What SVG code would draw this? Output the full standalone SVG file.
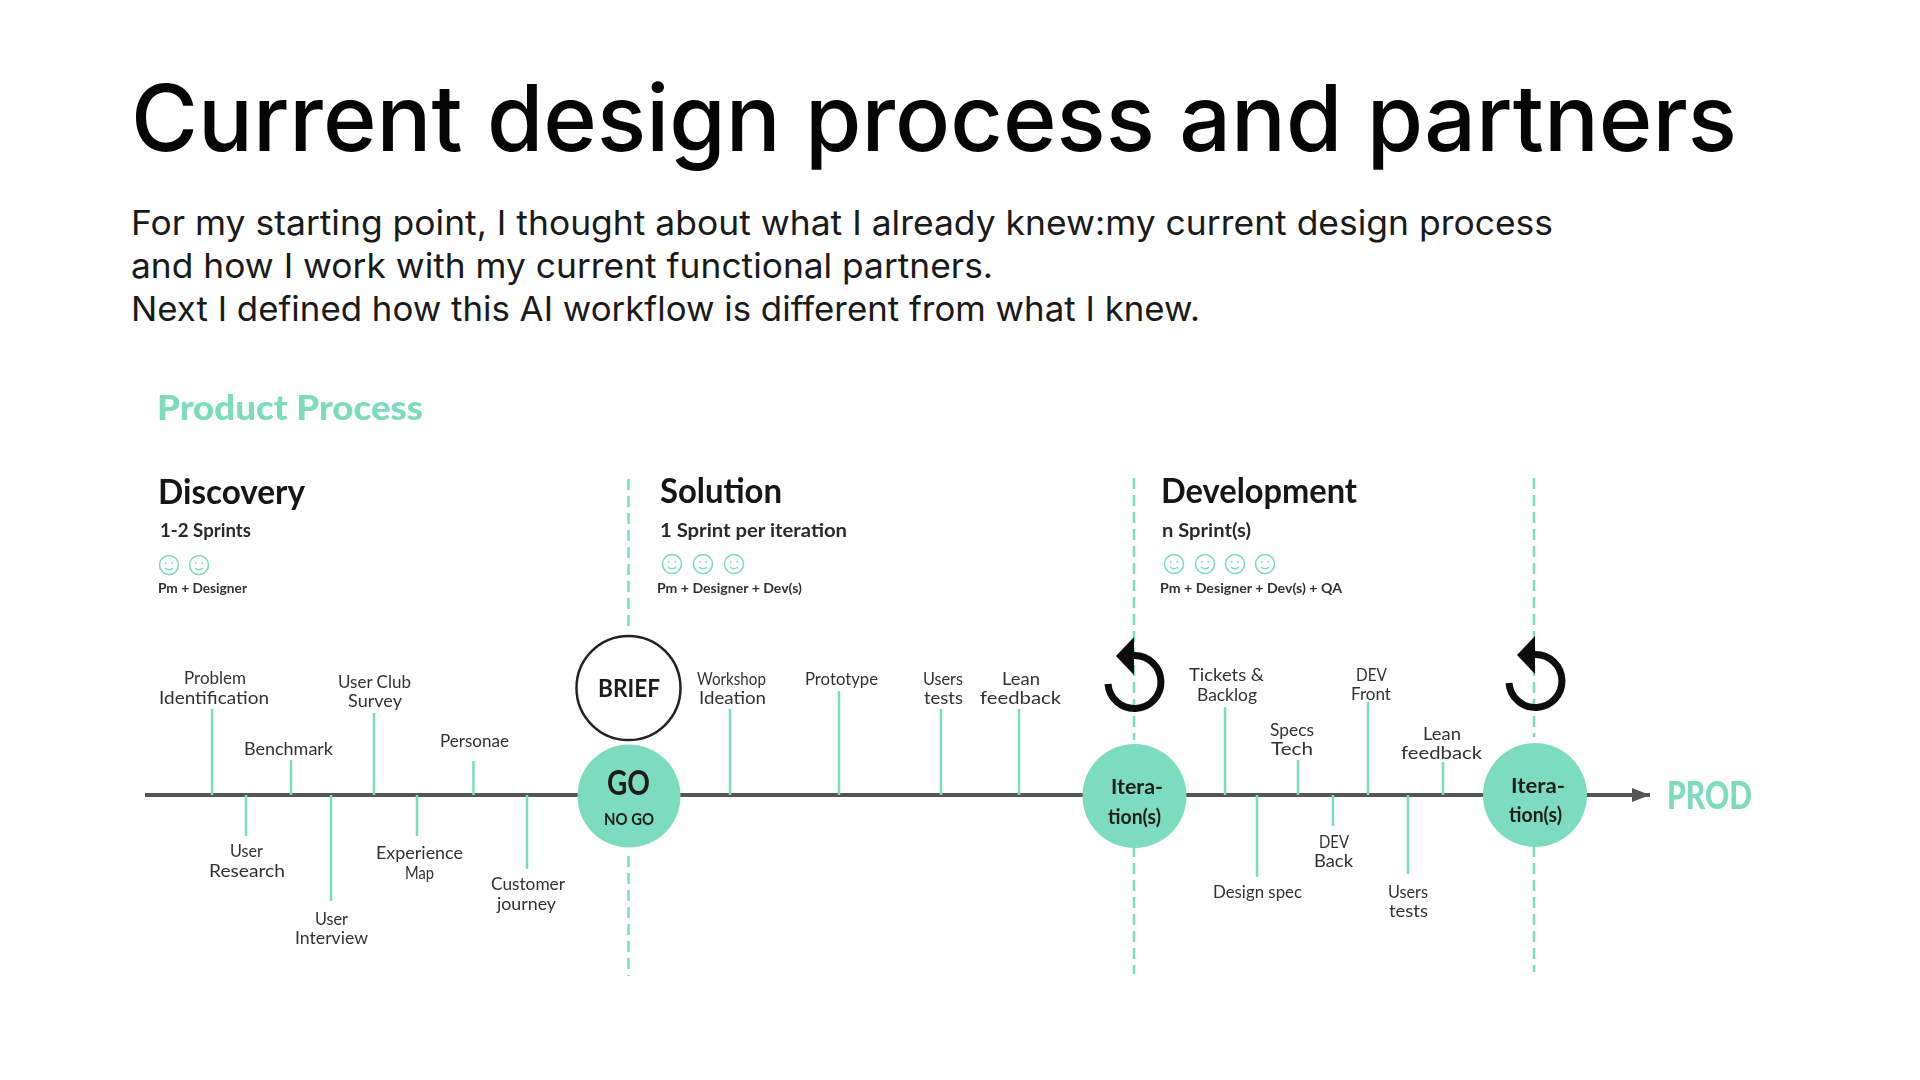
<svg xmlns="http://www.w3.org/2000/svg" width="1920" height="1080" viewBox="0 0 1920 1080">
<style>
text{font-family:"Lato","Open Sans","Liberation Sans",sans-serif}
.title{font-family:"Inter","Liberation Sans",sans-serif;font-size:92px;font-weight:530;fill:#050505}
.body{font-family:"Inter","Liberation Sans",sans-serif;font-size:34px;fill:#1a1a1a}
.lab{font-size:17.5px;fill:#333}
.head{font-size:35px;font-weight:700;fill:#141414}
.sprint{font-size:19px;font-weight:700;fill:#2a2a2a}
.team{font-size:14px;font-weight:700;fill:#333}
.teal{font-weight:900;fill:#7cdcbd}
.node{font-weight:700;fill:#1c1c1c}
.tick{stroke:#7cdcbd;stroke-width:2.5;fill:none}
.dash{stroke:#7cdcbd;stroke-width:2.5;stroke-dasharray:11 6;fill:none}
.axis{stroke:#555;stroke-width:4;fill:none}
.disc{fill:#7cdcbd}
.loop{stroke:#0a0a0a;stroke-width:7;fill:none}
.face{stroke:#7cdcbd;stroke-width:1.6;fill:none}
</style>
<defs>
<marker id="ah" markerUnits="userSpaceOnUse" markerWidth="19" markerHeight="14" refX="18" refY="7" orient="auto"><path d="M0 0L18 7L0 14Z" fill="#555"/></marker>
<symbol id="smile" viewBox="-11 -11 22 22" width="22" height="22" overflow="visible">
<circle class="face" r="9.5"/><circle cx="-3.2" cy="-2" r="0.9" fill="#7cdcbd"/><circle cx="3.2" cy="-2" r="0.9" fill="#7cdcbd"/><path class="face" d="M-4 3Q0 6.500 4 3"/>
</symbol>
<g id="loopshape"><path class="loop" d="M-26 2A26.500 26.500 0 1 0 0 -26.500"/><path d="M0 -45L-18 -26L0 -7Z" fill="#0a0a0a"/></g>
<filter id="soft" x="-2%" y="-2%" width="104%" height="104%"><feGaussianBlur stdDeviation="0.5"/></filter>
</defs>
<rect width="1920" height="1080" fill="#fff"/>
<g id="heading">
<text class="title" x="131" y="151" textLength="1606" lengthAdjust="spacingAndGlyphs">Current design process and partners</text>
<text class="body" x="131" y="235" textLength="1422" lengthAdjust="spacingAndGlyphs">For my starting point, I thought about what I already knew:my current design process</text>
<text class="body" x="131" y="278" textLength="862" lengthAdjust="spacingAndGlyphs">and how I work with my current functional partners.</text>
<text class="body" x="131" y="321" textLength="1069" lengthAdjust="spacingAndGlyphs">Next I defined how this AI workflow is different from what I knew.</text>
</g>
<g id="diagram" filter="url(#soft)">
<g id="connectors">
<path class="axis" d="M145 795H1650" marker-end="url(#ah)"/>
<path class="dash" d="M628.500 479V631M628.500 856V976M1134 478V740M1134 846V974M1534 478V737M1534 846V972"/>
<path class="tick" d="M212 709V795M291 760V795M374 713V795M473.500 761V795M246 795V836M331 795V901M417 795V836M527 795V869"/>
<path class="tick" d="M730 709V795M839 691V795M941 709V795M1019 709V795"/>
<path class="tick" d="M1225 707V795M1298 760V795M1368 702V795M1443 762V795M1257 795V877M1333 795V826M1408 795V874"/>
</g>
<g id="product-process"><text class="teal" font-size="34" x="157" y="420" textLength="266" lengthAdjust="spacingAndGlyphs">Product Process</text></g>
<g id="discovery">
<text class="head" x="158" y="504" textLength="147" lengthAdjust="spacingAndGlyphs">Discovery</text>
<text class="sprint" x="160" y="537" textLength="91" lengthAdjust="spacingAndGlyphs">1-2 Sprints</text>
<use href="#smile" x="158" y="554"/><use href="#smile" x="188" y="554"/>
<text class="team" x="158" y="593" textLength="89" lengthAdjust="spacingAndGlyphs">Pm + Designer</text>
</g>
<g id="solution">
<text class="head" x="660" y="503" textLength="122" lengthAdjust="spacingAndGlyphs">Solution</text>
<text class="sprint" x="660" y="537" textLength="187" lengthAdjust="spacingAndGlyphs">1 Sprint per iteration</text>
<use href="#smile" x="661" y="553"/><use href="#smile" x="692" y="553"/><use href="#smile" x="723" y="553"/>
<text class="team" x="657" y="593" textLength="145" lengthAdjust="spacingAndGlyphs">Pm + Designer + Dev(s)</text>
</g>
<g id="development">
<text class="head" x="1161" y="503" textLength="196" lengthAdjust="spacingAndGlyphs">Development</text>
<text class="sprint" x="1162" y="537" textLength="89" lengthAdjust="spacingAndGlyphs">n Sprint(s)</text>
<use href="#smile" x="1163" y="553"/><use href="#smile" x="1194" y="553"/><use href="#smile" x="1224" y="553"/><use href="#smile" x="1254" y="553"/>
<text class="team" x="1160" y="593" textLength="182" lengthAdjust="spacingAndGlyphs">Pm + Designer + Dev(s) + QA</text>
</g>
<g id="brief"><circle cx="628.500" cy="688" r="52" fill="#fff" stroke="#222" stroke-width="2.500"/><text class="node" font-size="25" x="598" y="697" textLength="62" lengthAdjust="spacingAndGlyphs">BRIEF</text></g>
<g id="go"><circle class="disc" cx="629" cy="796" r="51.500"/><text class="node" font-size="34" x="607" y="795" textLength="43" lengthAdjust="spacingAndGlyphs">GO</text><text class="node" font-size="17" x="604" y="825" textLength="50" lengthAdjust="spacingAndGlyphs">NO GO</text></g>
<g id="iteration-1"><circle class="disc" cx="1134.500" cy="796" r="52"/><text class="node" font-size="21" x="1111" y="794" textLength="52" lengthAdjust="spacingAndGlyphs">Itera-</text><text class="node" font-size="21" x="1108" y="824" textLength="53" lengthAdjust="spacingAndGlyphs">tion(s)</text></g>
<g id="iteration-2"><circle class="disc" cx="1535" cy="795" r="52"/><text class="node" font-size="21" x="1511" y="793" textLength="54" lengthAdjust="spacingAndGlyphs">Itera-</text><text class="node" font-size="21" x="1509" y="822" textLength="53" lengthAdjust="spacingAndGlyphs">tion(s)</text></g>
<g id="loop-1"><use href="#loopshape" x="1134" y="682"/></g>
<g id="loop-2"><use href="#loopshape" x="1535" y="681"/></g>
<g id="prod"><text class="teal" font-size="38" x="1667" y="809" textLength="85" lengthAdjust="spacingAndGlyphs">PROD</text></g>
<g id="labels-discovery">
<g id="problem-identification"><text class="lab" x="184" y="684" textLength="62" lengthAdjust="spacingAndGlyphs">Problem</text><text class="lab" x="159" y="704" textLength="110" lengthAdjust="spacingAndGlyphs">Identification</text></g>
<g id="benchmark"><text class="lab" x="244" y="755" textLength="89" lengthAdjust="spacingAndGlyphs">Benchmark</text></g>
<g id="user-club"><text class="lab" x="338" y="688" textLength="73" lengthAdjust="spacingAndGlyphs">User Club</text><text class="lab" x="348" y="707" textLength="54" lengthAdjust="spacingAndGlyphs">Survey</text></g>
<g id="personae"><text class="lab" x="440" y="747" textLength="69" lengthAdjust="spacingAndGlyphs">Personae</text></g>
<g id="user-research"><text class="lab" x="230" y="857" textLength="33" lengthAdjust="spacingAndGlyphs">User</text><text class="lab" x="209" y="877" textLength="76" lengthAdjust="spacingAndGlyphs">Research</text></g>
<g id="user-interview"><text class="lab" x="315" y="925" textLength="33" lengthAdjust="spacingAndGlyphs">User</text><text class="lab" x="295" y="944" textLength="73" lengthAdjust="spacingAndGlyphs">Interview</text></g>
<g id="experience-map"><text class="lab" x="376" y="859" textLength="87" lengthAdjust="spacingAndGlyphs">Experience</text><text class="lab" x="405" y="879" textLength="29" lengthAdjust="spacingAndGlyphs">Map</text></g>
<g id="customer-journey"><text class="lab" x="491" y="890" textLength="74" lengthAdjust="spacingAndGlyphs">Customer</text><text class="lab" x="497" y="910" textLength="59" lengthAdjust="spacingAndGlyphs">journey</text></g>
</g>
<g id="labels-solution">
<g id="workshop-ideation"><text class="lab" x="697" y="685" textLength="69" lengthAdjust="spacingAndGlyphs">Workshop</text><text class="lab" x="699" y="704" textLength="67" lengthAdjust="spacingAndGlyphs">Ideation</text></g>
<g id="prototype"><text class="lab" x="805" y="685" textLength="73" lengthAdjust="spacingAndGlyphs">Prototype</text></g>
<g id="users-tests-1"><text class="lab" x="923" y="685" textLength="40" lengthAdjust="spacingAndGlyphs">Users</text><text class="lab" x="924" y="704" textLength="39" lengthAdjust="spacingAndGlyphs">tests</text></g>
<g id="lean-feedback-1"><text class="lab" x="1002" y="685" textLength="38" lengthAdjust="spacingAndGlyphs">Lean</text><text class="lab" x="980" y="704" textLength="81" lengthAdjust="spacingAndGlyphs">feedback</text></g>
</g>
<g id="labels-development">
<g id="tickets-backlog"><text class="lab" x="1189" y="681" textLength="75" lengthAdjust="spacingAndGlyphs">Tickets &amp;</text><text class="lab" x="1197" y="701" textLength="60" lengthAdjust="spacingAndGlyphs">Backlog</text></g>
<g id="specs-tech"><text class="lab" x="1270" y="736" textLength="44" lengthAdjust="spacingAndGlyphs">Specs</text><text class="lab" x="1271" y="755" textLength="42" lengthAdjust="spacingAndGlyphs">Tech</text></g>
<g id="dev-front"><text class="lab" x="1356" y="681" textLength="31" lengthAdjust="spacingAndGlyphs">DEV</text><text class="lab" x="1351" y="700" textLength="40" lengthAdjust="spacingAndGlyphs">Front</text></g>
<g id="lean-feedback-2"><text class="lab" x="1423" y="740" textLength="38" lengthAdjust="spacingAndGlyphs">Lean</text><text class="lab" x="1401" y="759" textLength="81" lengthAdjust="spacingAndGlyphs">feedback</text></g>
<g id="dev-back"><text class="lab" x="1319" y="848" textLength="30" lengthAdjust="spacingAndGlyphs">DEV</text><text class="lab" x="1314" y="867" textLength="39" lengthAdjust="spacingAndGlyphs">Back</text></g>
<g id="design-spec"><text class="lab" x="1213" y="898" textLength="89" lengthAdjust="spacingAndGlyphs">Design spec</text></g>
<g id="users-tests-2"><text class="lab" x="1388" y="898" textLength="40" lengthAdjust="spacingAndGlyphs">Users</text><text class="lab" x="1389" y="917" textLength="39" lengthAdjust="spacingAndGlyphs">tests</text></g>
</g>
</g>
</svg>
